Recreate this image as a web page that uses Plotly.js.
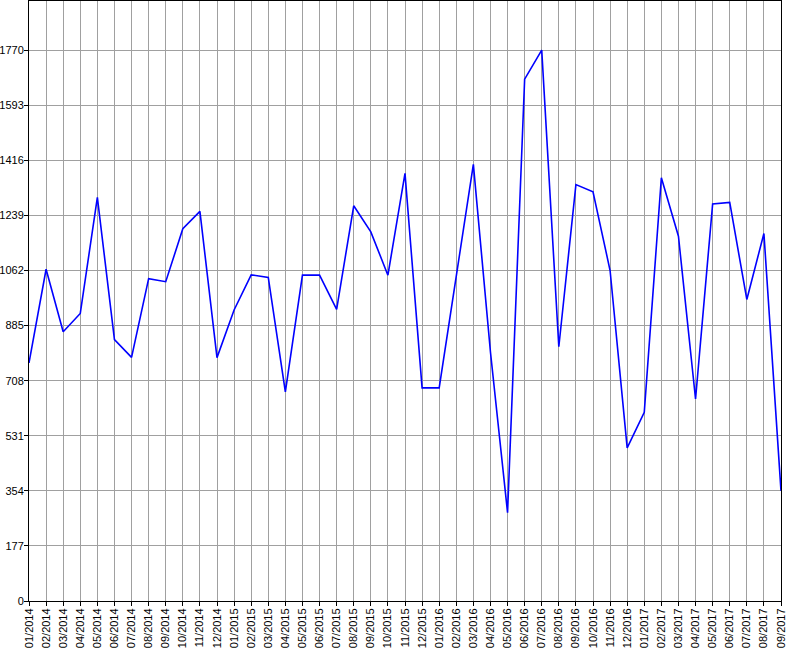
<!DOCTYPE html>
<html>
<head>
<meta charset="utf-8">
<script src="https://cdn.plot.ly/plotly-3.0.1.min.js"></script>
<style>
html,body{margin:0;padding:0;background:#fff;}
#chart{width:800px;height:650px;}
</style>
</head>
<body>
<div id="chart"></div>
<script>
var months = ["01/2014","02/2014","03/2014","04/2014","05/2014","06/2014","07/2014","08/2014","09/2014","10/2014","11/2014","12/2014",
"01/2015","02/2015","03/2015","04/2015","05/2015","06/2015","07/2015","08/2015","09/2015","10/2015","11/2015","12/2015",
"01/2016","02/2016","03/2016","04/2016","05/2016","06/2016","07/2016","08/2016","09/2016","10/2016","11/2016","12/2016",
"01/2017","02/2017","03/2017","04/2017","05/2017","06/2017","07/2017","08/2017","09/2017"];
var values = [765,1066,865,924,1297,840,783,1036,1026,1196,1252,782,
935,1048,1040,672,1047,1047,937,1270,1186,1047,1374,685,
685,1042,1403,800,284,1677,1770,817,1338,1315,1062,492,
606,1360,1172,649,1276,1281,969,1181,354];
var yTicks = [0,177,354,531,708,885,1062,1239,1416,1593,1770];

var trace = {
  x: months, y: values, type: "scatter", mode: "lines",
  line: {color: "#0000ff", width: 1.6}, hoverinfo: "x+y"
};
var layout = {
  width: 800, height: 650,
  margin: {l: 29, r: 19, t: 1, b: 49, pad: 0},
  paper_bgcolor: "#ffffff", plot_bgcolor: "#ffffff",
  showlegend: false,
  font: {family: "Liberation Sans, Arial, sans-serif", size: 11, color: "#000"},
  xaxis: {
    type: "category", range: [0, months.length - 1],
    tickmode: "array", tickvals: months, ticktext: months,
    tickangle: -90, ticks: "outside", ticklen: 4, tickcolor: "#000",
    showgrid: true, gridcolor: "#a0a0a0", gridwidth: 1,
    showline: true, linecolor: "#000", linewidth: 1, mirror: true,
    zeroline: false, tickfont: {size: 11, family: "Liberation Sans, Arial, sans-serif"},
    ticklabelstandoff: -2
  },
  yaxis: {
    range: [0, 1928], tickmode: "array", tickvals: yTicks, ticktext: yTicks.map(String),
    ticks: "outside", ticklen: 4, tickcolor: "#000",
    showgrid: true, gridcolor: "#a0a0a0", gridwidth: 1,
    showline: true, linecolor: "#000", linewidth: 1, mirror: true,
    zeroline: false, tickfont: {size: 11}, ticklabelstandoff: -2
  }
};
Plotly.newPlot("chart", [trace], layout, {displayModeBar: false, staticPlot: true});
</script>
</body>
</html>
